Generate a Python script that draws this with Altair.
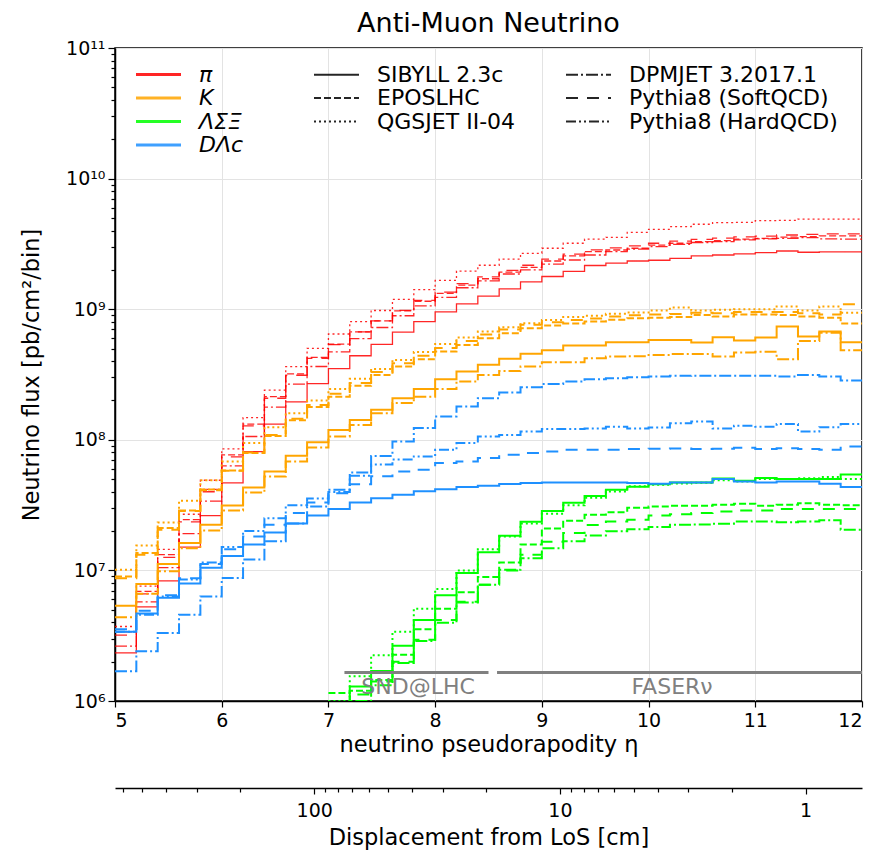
import math
import altair as alt
import pandas as pd

# ---------------- data ----------------
ETA_EDGES = [5.0, 5.2, 5.4, 5.6, 5.8, 6.0, 6.2, 6.4, 6.6, 6.8, 7.0, 7.2, 7.4, 7.6, 7.8,
             8.0, 8.2, 8.4, 8.6, 8.8, 9.0, 9.2, 9.4, 9.6, 9.8, 10.0, 10.2, 10.4, 10.6,
             10.8, 11.0, 11.2, 11.4, 11.6, 11.8, 12.0]

PARTICLES = ["π", "K", "ΛΣΞ", "DΛc"]
COLORS = ["#ff0000", "#ffa500", "#00ff00", "#1e90ff"]
GENERATORS = ["SIBYLL 2.3c", "EPOSLHC", "QGSJET II-04", "DPMJET 3.2017.1",
              "Pythia8 (SoftQCD)", "Pythia8 (HardQCD)"]

# pions
pi_sibyll = [2.34e6, 5.25e6, 8.32e6, 1.51e7, 2.63e7, 4.68e7, 8.13e7, 1.32e8, 1.95e8, 2.69e8,
             3.51e8, 4.40e8, 5.37e8, 6.68e8, 8.04e8, 9.55e8, 1.10e9, 1.26e9, 1.43e9, 1.62e9,
             1.78e9, 1.95e9, 2.16e9, 2.25e9, 2.34e9, 2.37e9, 2.45e9, 2.56e9, 2.60e9, 2.65e9,
             2.71e9, 2.79e9, 2.73e9, 2.75e9, 2.75e9]
pi_qgsjet = [3.72e6, 7.59e6, 1.45e7, 2.69e7, 4.90e7, 8.51e7, 1.48e8, 2.40e8, 3.63e8, 5.01e8,
             6.46e8, 8.04e8, 9.77e8, 1.19e9, 1.41e9, 1.66e9, 1.96e9, 2.17e9, 2.42e9, 2.68e9,
             2.93e9, 3.20e9, 3.44e9, 3.55e9, 3.88e9, 4.09e9, 4.29e9, 4.47e9, 4.60e9, 4.62e9,
             4.76e9, 4.79e9, 4.90e9, 4.90e9, 4.90e9]
pi_epos = [3.39e6, 6.92e6, 1.32e7, 2.45e7, 4.17e7, 7.67e7, 1.32e8, 2.14e8, 3.20e8, 4.27e8,
           5.41e8, 6.71e8, 8.13e8, 9.70e8, 1.15e9, 1.32e9, 1.53e9, 1.71e9, 1.92e9, 2.09e9,
           2.34e9, 2.56e9, 2.76e9, 2.84e9, 2.93e9, 3.10e9, 3.20e9, 3.29e9, 3.35e9, 3.44e9,
           3.49e9, 3.56e9, 3.60e9, 3.64e9, 3.64e9]
pi_dpmjet = [2.63e6, 5.75e6, 1.05e7, 1.91e7, 3.39e7, 6.31e7, 1.06e8, 1.78e8, 2.67e8, 3.64e8,
             4.71e8, 5.96e8, 7.24e8, 8.91e8, 1.06e9, 1.23e9, 1.46e9, 1.65e9, 1.86e9, 2.00e9,
             2.21e9, 2.38e9, 2.60e9, 2.76e9, 2.88e9, 3.01e9, 3.14e9, 3.24e9, 3.29e9, 3.39e9,
             3.45e9, 3.49e9, 3.53e9, 3.45e9, 3.44e9]
pi_pythia_soft = [3.20e6, 6.60e6, 1.26e7, 2.35e7, 4.00e7, 7.40e7, 1.28e8, 2.08e8, 3.12e8, 4.20e8,
                  5.35e8, 6.70e8, 8.15e8, 9.80e8, 1.17e9, 1.35e9, 1.57e9, 1.77e9, 1.98e9, 2.17e9,
                  2.42e9, 2.64e9, 2.85e9, 2.95e9, 3.05e9, 3.20e9, 3.32e9, 3.42e9, 3.50e9, 3.58e9,
                  3.63e9, 3.70e9, 3.74e9, 3.78e9, 3.78e9]

# kaons
k_sibyll = [5.37e6, 7.87e6, 1.12e7, 1.62e7, 2.24e7, 3.14e7, 4.32e7, 5.73e7, 7.55e7, 9.59e7,
            1.19e8, 1.42e8, 1.70e8, 2.08e8, 2.45e8, 2.91e8, 3.33e8, 3.75e8, 4.17e8, 4.55e8,
            4.85e8, 5.27e8, 5.27e8, 5.58e8, 5.58e8, 5.82e8, 5.82e8, 5.56e8, 6.10e8, 5.75e8,
            6.07e8, 7.36e8, 6.17e8, 6.75e8, 5.58e8]
k_qgsjet = [1.01e7, 1.55e7, 2.33e7, 3.41e7, 4.90e7, 6.82e7, 9.44e7, 1.25e8, 1.60e8, 2.00e8,
            2.45e8, 2.93e8, 3.49e8, 4.09e8, 4.71e8, 5.42e8, 6.07e8, 6.75e8, 7.28e8, 7.82e8,
            8.28e8, 8.71e8, 8.91e8, 9.23e8, 9.44e8, 9.77e8, 1.03e9, 9.77e8, 9.89e8, 1.00e9,
            1.00e9, 1.05e9, 9.77e8, 1.05e9, 9.40e8]
k_epos = [9.00e6, 1.36e7, 2.11e7, 2.88e7, 4.17e7, 5.82e7, 7.94e7, 1.07e8, 1.41e8, 1.78e8,
          2.14e8, 2.59e8, 3.14e8, 3.64e8, 4.14e8, 4.74e8, 5.33e8, 6.00e8, 6.55e8, 7.16e8,
          7.50e8, 7.76e8, 8.04e8, 8.32e8, 8.51e8, 8.61e8, 8.71e8, 9.02e8, 8.81e8, 9.12e8,
          9.12e8, 9.02e8, 8.81e8, 8.61e8, 7.76e8]
k_dpmjet = [4.37e6, 6.64e6, 9.84e6, 1.48e7, 2.02e7, 2.88e7, 3.95e7, 5.24e7, 6.82e7, 8.73e7,
            1.06e8, 1.30e8, 1.60e8, 1.91e8, 2.14e8, 2.45e8, 2.79e8, 3.14e8, 3.37e8, 3.64e8,
            3.93e8, 3.93e8, 4.21e8, 4.34e8, 4.37e8, 4.46e8, 4.53e8, 4.53e8, 4.34e8, 4.67e8,
            4.72e8, 4.14e8, 5.71e8, 6.61e8, 4.86e8]
k_pythia_soft = [8.70e6, 1.32e7, 2.05e7, 2.85e7, 4.10e7, 5.80e7, 8.00e7, 1.09e8, 1.45e8, 1.85e8,
                 2.25e8, 2.72e8, 3.30e8, 3.85e8, 4.40e8, 5.05e8, 5.70e8, 6.40e8, 7.00e8, 7.60e8,
                 7.95e8, 8.25e8, 8.50e8, 8.80e8, 9.00e8, 9.10e8, 9.20e8, 9.40e8, 9.30e8, 9.50e8,
                 9.50e8, 9.50e8, 9.30e8, 9.10e8, 1.09e9]

# hyperons (start at eta = 7.0)
hyp_sibyll = [9.33e5, 1.29e6, 1.70e6, 2.65e6, 4.17e6, 6.46e6, 9.55e6, 1.38e7, 1.84e7, 2.36e7,
              2.85e7, 3.30e7, 3.71e7, 4.14e7, 4.37e7, 4.57e7, 4.72e7, 4.72e7, 5.06e7, 4.85e7,
              5.09e7, 5.01e7, 5.01e7, 5.01e7, 5.43e7]
hyp_qgsjet = [1.00e6, 1.55e6, 2.24e6, 3.39e6, 5.08e6, 7.21e6, 1.00e7, 1.45e7, 1.82e7, 2.29e7,
              2.72e7, 3.16e7, 3.60e7, 4.02e7, 4.40e7, 4.53e7, 4.63e7, 4.68e7, 4.90e7, 4.79e7,
              5.01e7, 5.01e7, 5.07e7, 5.19e7, 5.01e7]
hyp_epos = [1.15e6, 1.20e6, 1.45e6, 2.26e6, 3.55e6, 5.09e6, 6.79e6, 8.91e6, 1.15e7, 1.58e7,
            2.09e7, 2.40e7, 2.67e7, 2.79e7, 3.02e7, 3.09e7, 3.13e7, 3.13e7, 3.18e7, 3.24e7,
            3.13e7, 3.18e7, 3.27e7, 3.18e7, 3.16e7]
hyp_dpmjet = [7.94e5, 1.00e6, 1.32e6, 1.95e6, 2.88e6, 3.98e6, 5.69e6, 7.76e6, 1.01e7, 1.24e7,
              1.48e7, 1.67e7, 1.85e7, 1.99e7, 2.07e7, 2.15e7, 2.24e7, 2.25e7, 2.28e7, 2.37e7,
              2.37e7, 2.34e7, 2.37e7, 2.42e7, 2.05e7]
hyp_pythia_soft = [8.90e5, 1.12e6, 1.41e6, 2.00e6, 2.95e6, 4.17e6, 5.75e6, 7.76e6, 1.00e7, 1.32e7,
                   1.66e7, 1.93e7, 2.23e7, 2.37e7, 2.44e7, 2.63e7, 2.69e7, 2.75e7, 2.82e7, 2.88e7,
                   2.88e7, 2.95e7, 2.95e7, 2.95e7, 2.95e7]

# charm
d_sibyll = [3.39e6, 4.68e6, 6.17e6, 7.94e6, 1.05e7, 1.29e7, 1.58e7, 1.95e7, 2.29e7, 2.63e7,
            2.95e7, 3.31e7, 3.57e7, 3.79e7, 4.03e7, 4.19e7, 4.35e7, 4.45e7, 4.58e7, 4.67e7,
            4.70e7, 4.70e7, 4.72e7, 4.72e7, 4.67e7, 4.61e7, 4.72e7, 4.72e7, 5.00e7, 4.79e7,
            4.72e7, 4.79e7, 4.79e7, 4.61e7, 4.35e7]
d_dpmjet = [1.69e6, 2.40e6, 3.32e6, 4.58e6, 6.31e6, 8.75e6, 1.21e7, 1.67e7, 2.29e7, 3.09e7,
            4.15e7, 5.62e7, 7.53e7, 9.71e7, 1.23e8, 1.51e8, 1.80e8, 2.08e8, 2.30e8, 2.53e8,
            2.68e8, 2.79e8, 2.91e8, 2.96e8, 3.01e8, 3.05e8, 3.09e8, 3.10e8, 3.09e8, 3.09e8,
            3.09e8, 3.05e8, 3.14e8, 3.05e8, 2.84e8]
d_py_soft = [3.55e6, 4.90e6, 6.46e6, 8.71e6, 1.12e7, 1.45e7, 1.82e7, 2.24e7, 2.75e7, 3.31e7,
             3.89e7, 4.57e7, 5.25e7, 5.73e7, 5.89e7, 6.64e7, 6.82e7, 7.24e7, 7.67e7, 7.91e7,
             8.15e7, 8.39e7, 8.39e7, 8.39e7, 8.49e7, 8.55e7, 8.59e7, 8.49e7, 8.55e7, 8.69e7,
             8.49e7, 8.61e7, 8.49e7, 8.39e7, 8.89e7]
d_py_hard = [3.39e6, 4.57e6, 6.31e6, 8.51e6, 1.15e7, 1.51e7, 2.00e7, 2.51e7, 3.16e7, 3.55e7,
             3.98e7, 5.31e7, 6.46e7, 7.08e7, 7.46e7, 8.39e7, 9.44e7, 1.06e8, 1.09e8, 1.16e8,
             1.21e8, 1.21e8, 1.22e8, 1.26e8, 1.22e8, 1.24e8, 1.34e8, 1.38e8, 1.22e8, 1.28e8,
             1.26e8, 1.32e8, 1.16e8, 1.25e8, 1.32e8]

SERIES = [
    ("π", "SIBYLL 2.3c", 0, pi_sibyll), ("π", "EPOSLHC", 0, pi_epos),
    ("π", "QGSJET II-04", 0, pi_qgsjet), ("π", "DPMJET 3.2017.1", 0, pi_dpmjet),
    ("π", "Pythia8 (SoftQCD)", 0, pi_pythia_soft),
    ("K", "SIBYLL 2.3c", 0, k_sibyll), ("K", "EPOSLHC", 0, k_epos),
    ("K", "QGSJET II-04", 0, k_qgsjet), ("K", "DPMJET 3.2017.1", 0, k_dpmjet),
    ("K", "Pythia8 (SoftQCD)", 0, k_pythia_soft),
    ("ΛΣΞ", "SIBYLL 2.3c", 10, hyp_sibyll), ("ΛΣΞ", "EPOSLHC", 10, hyp_epos),
    ("ΛΣΞ", "QGSJET II-04", 10, hyp_qgsjet), ("ΛΣΞ", "DPMJET 3.2017.1", 10, hyp_dpmjet),
    ("ΛΣΞ", "Pythia8 (SoftQCD)", 10, hyp_pythia_soft),
    ("DΛc", "SIBYLL 2.3c", 0, d_sibyll), ("DΛc", "DPMJET 3.2017.1", 0, d_dpmjet),
    ("DΛc", "Pythia8 (SoftQCD)", 0, d_py_soft), ("DΛc", "Pythia8 (HardQCD)", 0, d_py_hard),
]

# detector acceptance bands
DET_NAMES = ["SND@LHC", "FASERν"]
DET_ETA_MIN = [7.15, 8.58]
DET_ETA_MAX = [8.50, 12.0]
DET_LABEL_ETA = [7.84, 10.22]
DET_LINE_FLUX = 1.65e6
DET_TEXT_FLUX = 1.27e6

# secondary axis: displacement from line of sight, d = 2 L exp(-eta), L = 480 m
L_CM = 48000.0
DISP_TICKS = [600, 500, 400, 300, 200, 100, 90, 80, 70, 60, 50, 40, 30, 20,
              10, 9, 8, 7, 6, 5, 4, 3, 2, 1]

# ---------------- build tables ----------------
rows = []
for particle, gen, start, vals in SERIES:
    for i, v in enumerate(vals):
        rows.append({"particle": particle, "generator": gen, "eta": ETA_EDGES[start + i], "flux": v})
    rows.append({"particle": particle, "generator": gen,
                 "eta": ETA_EDGES[start + len(vals)], "flux": vals[-1]})
df = pd.DataFrame(rows)

det_df = pd.DataFrame({"name": DET_NAMES, "lo": DET_ETA_MIN, "hi": DET_ETA_MAX,
                       "mid": DET_LABEL_ETA})
det_df["line"] = DET_LINE_FLUX
det_df["txt"] = DET_TEXT_FLUX

disp_df = pd.DataFrame({"d": DISP_TICKS})
d_left = 2 * L_CM * math.exp(-ETA_EDGES[0])
d_right = 2 * L_CM * math.exp(-ETA_EDGES[-1])

FONT = "DejaVu Sans"
DASHES = {
    "SIBYLL 2.3c": [1, 0],
    "EPOSLHC": [7, 3],
    "QGSJET II-04": [2, 3],
    "DPMJET 3.2017.1": [12, 3, 2, 3],
    "Pythia8 (SoftQCD)": [12, 9],
    "Pythia8 (HardQCD)": [10, 3, 2, 3, 2, 3],
}
LINE_SYMBOL = "M-2.25,0H2.25"

major_test = "abs(log(datum.value)/LN10 - round(log(datum.value)/LN10)) < 0.001"
y_ticks = []
for e in range(6, 12):
    for m in range(1, 10):
        if e == 11 and m > 1:
            break
        y_ticks.append(m * 10 ** e)
sup = {"6": "⁶", "7": "⁷", "8": "⁸", "9": "⁹", "10": "¹⁰", "11": "¹¹"}
y_label_expr = " : ".join(
    [f"datum.value == 1e{e} ? '10{sup[str(e)]}'" for e in range(6, 12)]) + " : ''"

x_axis = alt.Axis(values=[5, 6, 7, 8, 9, 10, 11, 12], format="d", tickSize=6,
                  labelFontSize=19, titleFontSize=22.5, labelPadding=4, titlePadding=3,
                  title="neutrino pseudorapodity η", grid=True)
y_axis = alt.Axis(values=y_ticks, labelExpr=y_label_expr,
                  tickSize={"condition": {"test": major_test, "value": 7}, "value": 4},
                  gridOpacity={"condition": {"test": major_test, "value": 1}, "value": 0},
                  labelFontSize=19, titleFontSize=22.5, labelPadding=3, titlePadding=22,
                  title="Neutrino flux [pb/cm²/bin]", grid=True)

x_scale = alt.Scale(domain=[5, 12], nice=False, zero=False)
y_scale = alt.Scale(type="log", domain=[1e6, 1e11], nice=False)

x_enc = alt.X("eta:Q", scale=x_scale, axis=x_axis)
y_enc = alt.Y("flux:Q", scale=y_scale, axis=y_axis)
color_enc = alt.Color("particle:N", scale=alt.Scale(domain=PARTICLES, range=COLORS),
                      legend=alt.Legend(orient="none", legendX=32, legendY=15, title=None,
                                        symbolType=LINE_SYMBOL, symbolStrokeWidth=3,
                                        symbolSize=400, labelFontSize=22,
                                        labelFontStyle="italic", labelFont=FONT,
                                        rowPadding=0.5, labelOffset=29, padding=0,
                                        labelLimit=0))
dash_enc = alt.StrokeDash("generator:N",
                          scale=alt.Scale(domain=GENERATORS, range=[DASHES[g] for g in GENERATORS]),
                          legend=alt.Legend(orient="none", legendX=210, legendY=15, title=None,
                                            columns=2, columnPadding=45,
                                            symbolType=LINE_SYMBOL, symbolStrokeWidth=2.2,
                                            symbolStrokeColor="black", symbolSize=400,
                                            labelFontSize=22, labelFont=FONT,
                                            rowPadding=0.5, labelOffset=29, padding=0,
                                            labelLimit=0))

red = alt.Chart(df).transform_filter(alt.datum.particle == "π").mark_line(
    interpolate="step-after", clip=True, strokeWidth=1.3, opacity=0.85
).encode(x=x_enc, y=y_enc, color=color_enc, strokeDash=dash_enc)

others = alt.Chart(df).transform_filter(alt.datum.particle != "π").mark_line(
    interpolate="step-after", clip=True, strokeWidth=2
).encode(x=x_enc, y=y_enc, color=color_enc, strokeDash=dash_enc)

bands = alt.Chart(det_df).mark_rule(color="#808080", strokeWidth=3).encode(
    x=alt.X("lo:Q", scale=x_scale, axis=x_axis),
    x2="hi:Q",
    y=alt.Y("line:Q", scale=y_scale, axis=y_axis),
)
labels = alt.Chart(det_df).mark_text(color="#808080", fontSize=22, font=FONT,
                                     baseline="middle").encode(
    x=alt.X("mid:Q", scale=x_scale, axis=x_axis),
    y=alt.Y("txt:Q", scale=y_scale, axis=y_axis),
    text="name:N",
)

main = alt.layer(red, others, bands, labels)

disp_axis = alt.Axis(orient="bottom", offset=87, values=DISP_TICKS,
                     labelExpr="datum.value == 100 ? '100' : datum.value == 10 ? '10' : datum.value == 1 ? '1' : ''",
                     tickSize={"condition": {"test": major_test, "value": 6}, "value": 4},
                     labelFontSize=19, titleFontSize=22.5, labelPadding=7, titlePadding=6,
                     title="Displacement from LoS [cm]", grid=False, domainColor="black",
                     domainWidth=1.5)
disp = alt.Chart(disp_df).mark_point(opacity=0).encode(
    x=alt.X("d:Q", scale=alt.Scale(type="log", domain=[d_right, d_left], reverse=True,
                                   nice=False, zero=False), axis=disp_axis)
)

chart = alt.layer(main, disp).resolve_scale(x="independent").properties(
    width=747, height=653,
    padding={"left": 115, "top": 48, "right": 14, "bottom": 154},
    autosize=alt.AutoSizeParams(type="none"),
    title=alt.Title("Anti-Muon Neutrino", fontSize=27, fontWeight="normal", font=FONT,
                    offset=1, color="black"),
).configure_view(stroke="black", strokeWidth=1.5).configure_axis(
    labelFont=FONT, titleFont=FONT, labelColor="black", titleColor="black",
    tickColor="black", domainColor="black", gridColor="#e3e3e3", titleFontWeight="normal",
    domainWidth=1.5, tickWidth=1.2
).configure_legend(labelFont=FONT, labelColor="black")

chart.save("out.html", embed_options={"renderer": "svg", "actions": False})
